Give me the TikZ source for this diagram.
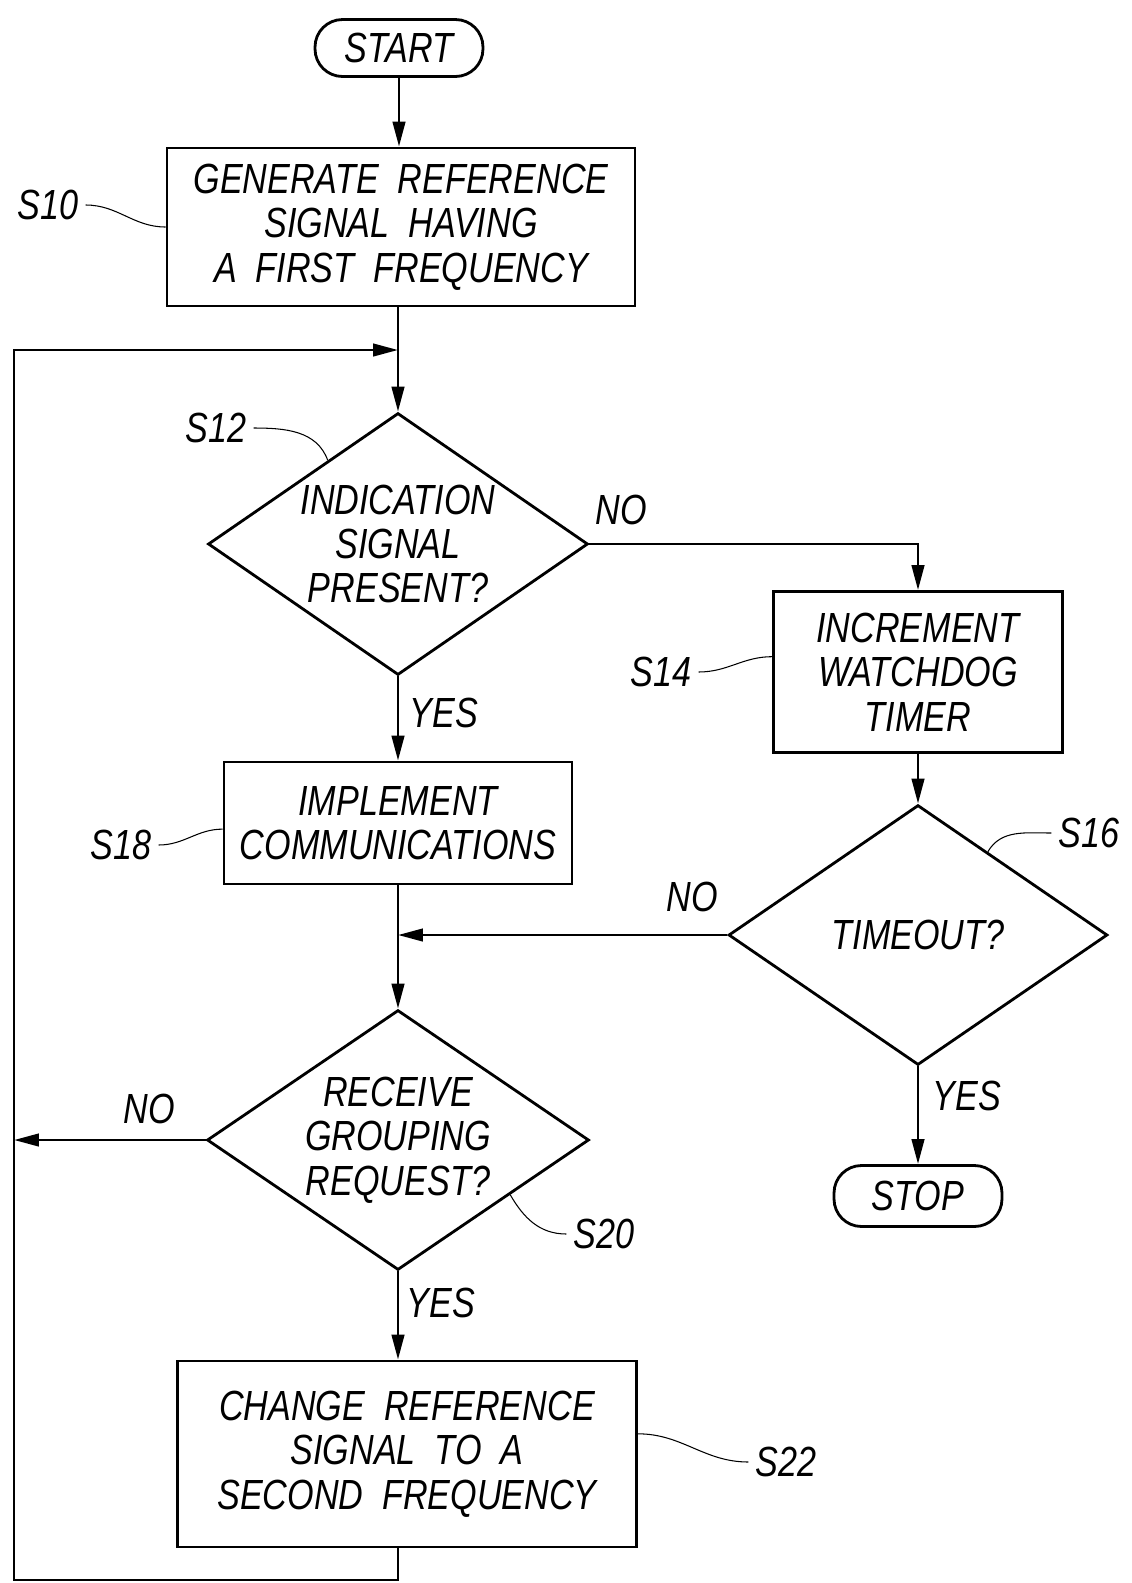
\documentclass[tikz,border=0pt]{standalone}
\usepackage{fontspec}
\newfontfamily\patfont{Liberation Sans}[FakeStretch=0.81,WordSpace=2]
\usetikzlibrary{arrows.meta,positioning,shapes.geometric}

\begin{document}
\begin{tikzpicture}[
                x=0.02cm, y=-0.02cm,
                font=\patfont\itshape\fontsize{24}{25.3}\selectfont,
                line width=1.6pt,
                >={Triangle[length=0.5cm,width=0.25cm]},
                stepbox/.style={draw, align=center, inner sep=0pt},
                term/.style={draw, rounded corners=0.55cm, minimum width=3.36cm,
                             minimum height=1.14cm, inner sep=0pt},
                decision/.style={draw, diamond, aspect=1.44, align=center, inner sep=-0.1cm},
                lead/.style={line width=0.6pt}
            ]
            \useasboundingbox (0,0) rectangle (1132,1583);
            \node[term] (start) at (399,48) {START};
            \node[stepbox, minimum width=9.36cm, minimum height=3.16cm] (s10) at (401,227)
                {GENERATE REFERENCE\\SIGNAL HAVING\\A FIRST FREQUENCY};
            \node[decision, minimum width=7.6cm, minimum height=5.24cm] (s12) at (398,544)
                {INDICATION\\SIGNAL\\PRESENT?};
            \node[stepbox, minimum width=5.78cm, minimum height=3.22cm] (s14) at (918,672)
                {INCREMENT\\WATCHDOG\\TIMER};
            \node[decision, minimum width=7.58cm, minimum height=5.2cm] (s16) at (918,935) {TIMEOUT?};
            \node[term, minimum height=1.22cm] (stop) at (918,1196) {STOP};
            \node[stepbox, minimum width=6.96cm, minimum height=2.44cm] (s18) at (398,823)
                {IMPLEMENT\\COMMUNICATIONS};
            \node[decision, minimum width=7.64cm, minimum height=5.2cm] (s20) at (398,1140)
                {RECEIVE\\GROUPING\\REQUEST?};
            \node[stepbox, minimum width=9.18cm, minimum height=3.72cm] (s22) at (407,1454)
                {CHANGE REFERENCE\\SIGNAL TO A\\SECOND FREQUENCY};
            \coordinate (join1) at (398,350);
            \coordinate (join2) at (398,935);
            \coordinate (corner) at (14,1580);
            % flow
            \draw[->] (start.south) -- (start.south |- s10.north);
            \draw[->] (s10.south -| join1) -- (s12.north);
            \draw[->] (s12.east) -| (s14.north);
            \draw[->] (s14) -- (s16);
            \draw[->] (s16) -- (stop);
            \draw[->] (s16.west) -- (join2);
            \draw[->] (s12) -- (s18);
            \draw[->] (s18) -- (s20);
            \draw[->] (s20.west) -- (s20.west -| corner);
            \draw[->] (s20.south) -- (s20.south |- s22.north);
            \draw[->] (s22.south -| join1) |- (corner) |- (join1);
            \node (no12) at (621,510) {NO};
            \node (yes12) at (444,713) {YES};
            \node (no16) at (692,897) {NO};
            \node (yes16) at (967,1096) {YES};
            \node (no20) at (149,1109) {NO};
            \node (yes20) at (441,1303) {YES};
            % step numbers
            \node (l10) at (48,205) {S10};
            \draw[lead] (l10.east) to[out=0,in=180] (s10.west);
            \node (l12) at (216,428) {S12};
            \draw[lead] (l12.east) to[out=0,in=110] (s12.130);
            \node (l14) at (661,672) {S14};
            \draw[lead] (l14.east) to[out=0,in=180] (s14.174);
            \node (l16) at (1089,833) {S16};
            \draw[lead] (s16.50) to[out=60,in=180] (l16.west);
            \node (l18) at (121,845) {S18};
            \draw[lead] (l18.east) to[out=0,in=180] (s18.182);
            \node (l20) at (604,1234) {S20};
            \draw[lead] (s20.334) to[out=-60,in=180] (l20.west);
            \node (l22) at (786,1462) {S22};
            \draw[lead] (s22.5) to[out=0,in=180] (l22.west);
            \end{tikzpicture}
\end{document}
